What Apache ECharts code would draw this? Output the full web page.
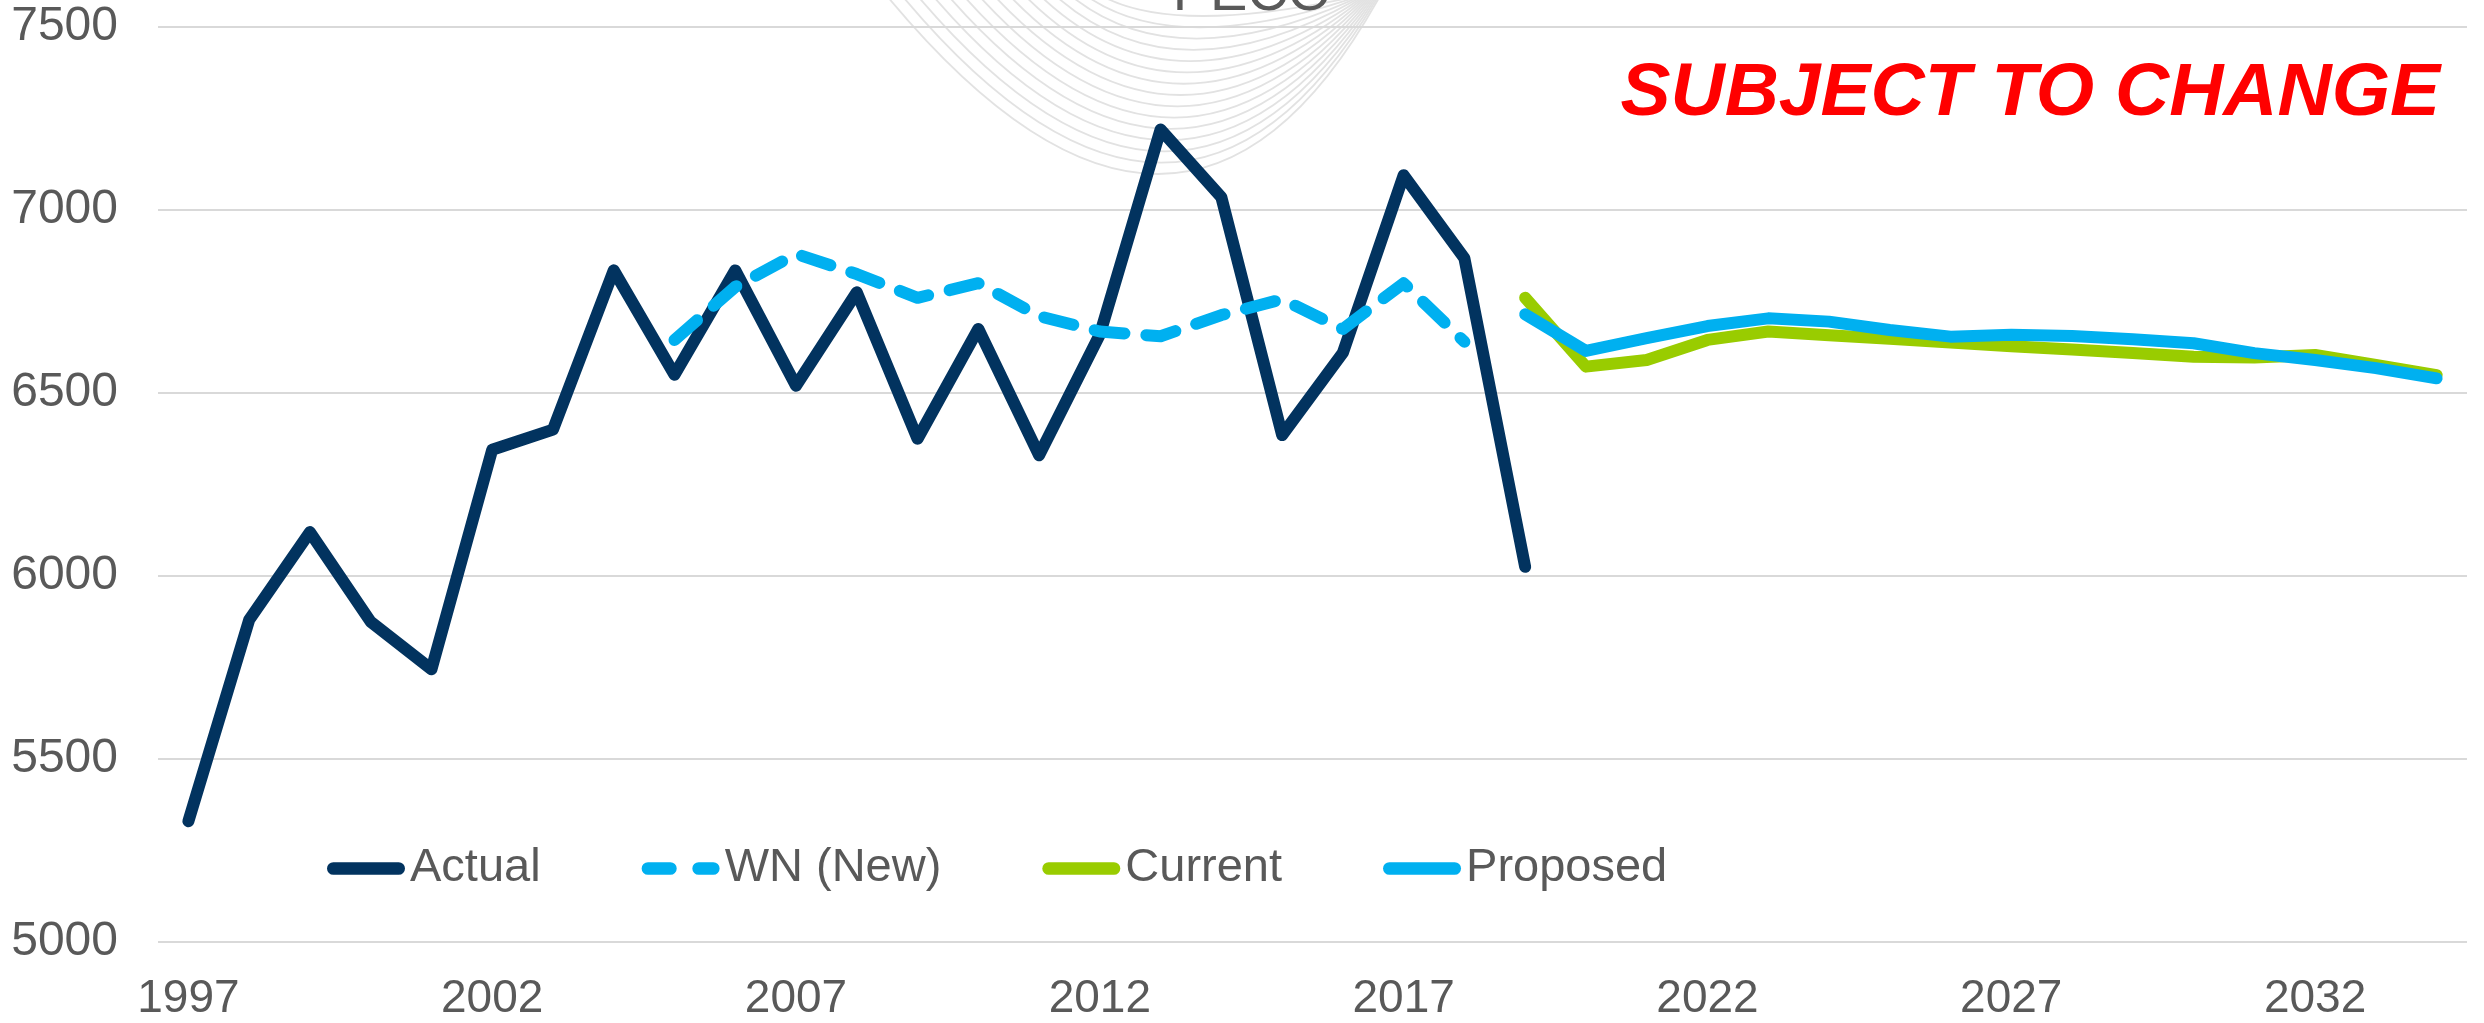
<!DOCTYPE html>
<html>
<head>
<meta charset="utf-8">
<title>PECO</title>
<script src="https://cdn.jsdelivr.net/npm/echarts@6/dist/echarts.min.js"></script>
<style>
  html, body { margin: 0; padding: 0; background: #ffffff; }
  #chart { width: 2484px; height: 1023px; }
</style>
</head>
<body>
<div id="chart"></div>
<script>
// Years on the category axis
const years = [];
for (let y = 1997; y <= 2034; y++) years.push(String(y));

// Actual load, 1997-2019
const actual = [5330, 5880, 6120, 5875, 5745, 6345, 6400, 6835, 6550, 6835,
                6520, 6775, 6375, 6675, 6330, 6660, 7220, 7035, 6385, 6610,
                7095, 6868, 6025];

// Weather-normalized (new method), 2005-2018
const wnNew = [6645, 6790, 6880, 6825, 6760, 6800, 6710, 6668, 6655, 6713,
               6756, 6675, 6800, 6640];
const wnStartYear = 2005;

// Forecasts, 2019-2034
const current = [6760, 6572, 6590, 6645, 6668, 6658, 6648, 6638, 6628, 6619,
                 6609, 6599, 6597, 6604, 6577, 6549];
const proposed = [6715, 6615, 6650, 6683, 6704, 6695, 6672, 6654, 6659, 6656,
                  6647, 6636, 6609, 6590, 6568, 6540];
const forecastStartYear = 2019;

const yTicks = { min: 5000, max: 7500, step: 500 };

// Align a partial series to the full year axis
function alignTo(startYear, values) {
  const out = years.map(() => null);
  const offset = years.indexOf(String(startYear));
  values.forEach((v, i) => { out[offset + i] = v; });
  return out;
}

const FONT = '"Liberation Sans", Arial, sans-serif';
const TEXT_GREY = '#595959';
const NAVY = '#02335f';
const SKY = '#00b0f0';
const LIME = '#99cc00';

const solidIcon = 'path://M6.5,0H73.5A6.5,6.5,0,0,1,73.5,13H6.5A6.5,6.5,0,0,1,6.5,0Z';
const dashIcon = 'path://M6.5,0H29.5A6.5,6.5,0,0,1,29.5,13H6.5A6.5,6.5,0,0,1,6.5,0Z' +
                 'M58.5,0H73.5A6.5,6.5,0,0,1,73.5,13H58.5A6.5,6.5,0,0,1,58.5,0Z';

// Faint nested swoosh of the company mark behind the plot
const swoosh = [];
const swooshCount = 15;
for (let i = 0; i < swooshCount; i++) {
  const t = i / (swooshCount - 1);
  const xl = 887 + t * 215;
  const xr = 1380 - t * 22;
  const yb = 174 - t * 158;
  const xb = 1158 + t * 45;
  swoosh.push({
    type: 'bezierCurve',
    silent: true,
    z: -10,
    shape: {
      x1: xl, y1: -4,
      x2: xr, y2: -4,
      cpx1: (4 * xb - xl - xr) / 2, cpy1: 2 * yb + 4
    },
    style: { stroke: '#e2e2e2', lineWidth: 1.8, fill: null }
  });
}

const chart = echarts.init(document.getElementById('chart'), null, { renderer: 'canvas' });

const lineBase = {
  type: 'line',
  symbol: 'none',
  smooth: false,
  connectNulls: false,
  animation: false
};

chart.setOption({
  backgroundColor: '#ffffff',
  animation: false,
  textStyle: { fontFamily: FONT },
  graphic: swoosh.concat([
    {
      type: 'text',
      silent: true,
      style: {
        text: 'PECO',
        x: 1252, y: -5,
        textAlign: 'center',
        textVerticalAlign: 'middle',
        font: '56px ' + FONT,
        fill: TEXT_GREY
      }
    },
    {
      type: 'text',
      silent: true,
      style: {
        text: 'SUBJECT TO CHANGE',
        x: 2440, y: 94,
        textAlign: 'right',
        textVerticalAlign: 'middle',
        font: 'italic bold 75px ' + FONT,
        fill: '#ff0000'
      }
    }
  ]),
  grid: {
    left: 158, right: 17, top: 27, bottom: 81,
    containLabel: false,
    outerBoundsMode: 'none'
  },
  legend: {
    left: 327,
    top: 845,
    padding: 0,
    itemWidth: 78,
    itemHeight: 13,
    itemGap: 101,
    itemStyle: { borderWidth: 0 },
    textStyle: { fontSize: 47, color: TEXT_GREY, fontFamily: FONT },
    data: [
      { name: 'Actual', icon: solidIcon },
      { name: 'WN (New)', icon: dashIcon },
      { name: 'Current', icon: solidIcon },
      { name: 'Proposed', icon: solidIcon }
    ]
  },
  xAxis: {
    type: 'category',
    data: years,
    boundaryGap: true,
    axisLine: { show: false },
    axisTick: { show: false },
    axisLabel: {
      interval: 4,
      fontSize: 46,
      color: TEXT_GREY,
      fontFamily: FONT,
      margin: 34
    },
    splitLine: { show: false }
  },
  yAxis: {
    type: 'value',
    min: yTicks.min,
    max: yTicks.max,
    interval: yTicks.step,
    axisLine: { show: false },
    axisTick: { show: false },
    axisLabel: {
      fontSize: 48,
      color: TEXT_GREY,
      fontFamily: FONT,
      margin: 40,
      formatter: (v) => String(v)
    },
    splitLine: { show: true, lineStyle: { color: '#d9d9d9', width: 2 } }
  },
  series: [
    Object.assign({}, lineBase, {
      name: 'Actual',
      data: actual,
      itemStyle: { color: NAVY },
      lineStyle: { color: NAVY, width: 12, cap: 'round', join: 'round' }
    }),
    Object.assign({}, lineBase, {
      name: 'WN (New)',
      data: alignTo(wnStartYear, wnNew),
      itemStyle: { color: SKY },
      lineStyle: { color: SKY, width: 12, type: [30, 22], cap: 'round', join: 'round' }
    }),
    Object.assign({}, lineBase, {
      name: 'Current',
      data: alignTo(forecastStartYear, current),
      itemStyle: { color: LIME },
      lineStyle: { color: LIME, width: 12, cap: 'round', join: 'round' }
    }),
    Object.assign({}, lineBase, {
      name: 'Proposed',
      data: alignTo(forecastStartYear, proposed),
      itemStyle: { color: SKY },
      lineStyle: { color: SKY, width: 12, cap: 'round', join: 'round' }
    })
  ]
});
</script>
</body>
</html>
